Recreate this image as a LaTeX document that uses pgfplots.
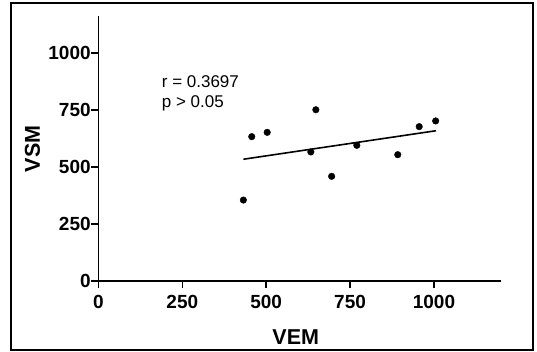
\documentclass[border=0pt]{standalone}
\usepackage{pgfplots}
\pgfplotsset{compat=1.18}
\usepackage{fontspec}
\setmainfont{Liberation Sans}
\begin{document}
\begin{tikzpicture}
\useasboundingbox (-98.4pt,-70pt) rectangle (438.6pt,281pt);
\draw[line width=1.6pt] (-87.4pt,-69pt) rectangle (434.6pt,278pt);
\begin{axis}[
  at={(0pt,0pt)}, anchor=south west,
  scale only axis, width=402.7pt, height=264.5pt,
  xmin=0, xmax=1200, ymin=0, ymax=1160,
  axis lines=left, axis line style={-, line width=1.4pt},
  xtick={0,250,500,750,1000}, ytick={0,250,500,750,1000},
  tick align=outside, major tick length=7pt,
  tick style={line width=1.4pt, black},
  /pgf/number format/assume math mode=true,
  /pgf/number format/1000 sep={},
  every tick label/.append style={font=\bfseries\fontsize{19}{19}\selectfont},
  yticklabel style={inner sep=0.5pt},
  xticklabel style={inner sep=2pt, yshift=-5pt},
  xlabel={VEM}, ylabel={VSM},
  label style={font=\bfseries\fontsize{21.5}{21.5}\selectfont},
  xlabel style={at={([yshift=-63pt]axis description cs:0.49,0)}, anchor=base},
  ylabel style={at={([xshift=-66pt]axis description cs:0,0.5)}, anchor=center},
  clip=false,
]
\addplot[only marks, mark=*, mark size=3.3pt, black] coordinates {
  (432,355) (457,633) (503,652) (633,566) (648,751)
  (695,459) (770,595) (892,554) (956,677) (1005,702)
};
\addplot[black, line width=1.6pt] coordinates {(432,534) (1006,659)};
\node[anchor=base west, font=\fontsize{17}{17}\selectfont, inner sep=0pt] at (axis cs:188.6,849.6) {r = 0.3697};
\node[anchor=base west, font=\fontsize{17}{17}\selectfont, inner sep=0pt] at (axis cs:188.6,761.8) {p > 0.05};
\end{axis}
\end{tikzpicture}
\end{document}
